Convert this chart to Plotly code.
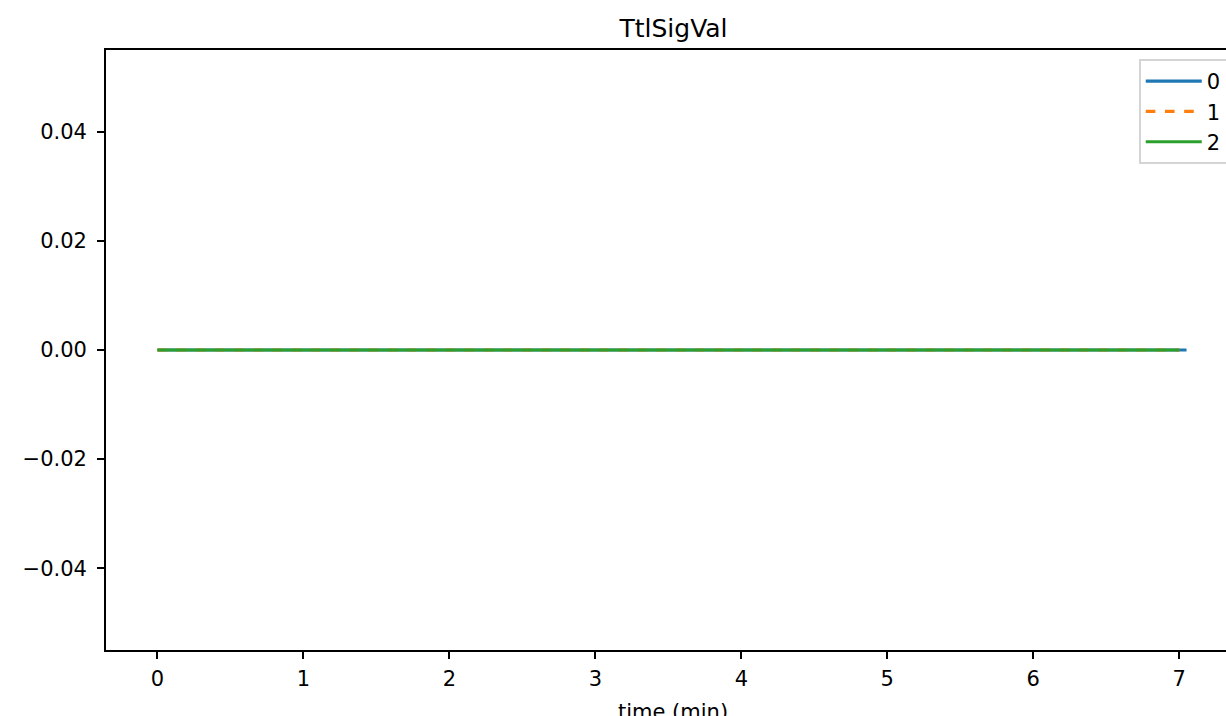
import plotly.graph_objects as go

# Data
time_0 = [0.0, 1.0, 2.0, 3.0, 4.0, 5.0, 6.0, 7.0, 7.05]
vals_0 = [0.0, 0.0, 0.0, 0.0, 0.0, 0.0, 0.0, 0.0, 0.0]
time_1 = [0.0, 1.0, 2.0, 3.0, 4.0, 5.0, 6.0, 7.0]
vals_1 = [0.0, 0.0, 0.0, 0.0, 0.0, 0.0, 0.0, 0.0]
time_2 = [0.0, 1.0, 2.0, 3.0, 4.0, 5.0, 6.0, 7.0]
vals_2 = [0.0, 0.0, 0.0, 0.0, 0.0, 0.0, 0.0, 0.0]
series_names = ["0", "1", "2"]
x_ticks = [0, 1, 2, 3, 4, 5, 6, 7]
y_ticks = [-0.04, -0.02, 0.0, 0.02, 0.04]
y_tick_labels = ["\u22120.04", "\u22120.02", "0.00", "0.02", "0.04"]

FONT = "DejaVu Sans"
TICK = 21
# plot area in page coords: x 105.5..1240.5, y 50..650 (right part falls outside the window)
L, T = 105.5, 50
PW, PH = 1135, 600
W = int(L + PW)
H = 716
B = H - T - PH


def px(page_x):
    return (page_x - L) / PW


def py(page_y):
    return 1 - (page_y - T) / PH


fig = go.Figure()
fig.add_trace(go.Scatter(x=time_0, y=vals_0, mode="lines", name=series_names[0],
                         line=dict(color="#1f77b4", width=3.2), legendgroup="a"))
fig.add_trace(go.Scatter(x=time_1, y=vals_1, mode="lines", name=series_names[1],
                         line=dict(color="#ff7f0e", width=3.2, dash="dash"), legendgroup="b"))
fig.add_trace(go.Scatter(x=time_2, y=vals_2, mode="lines", name=series_names[2],
                         line=dict(color="#2ca02c", width=3.2), legendgroup="c"))

fig.update_layout(
    width=W, height=H,
    margin=dict(l=L, r=0, t=T, b=B),
    paper_bgcolor="white", plot_bgcolor="white",
    font=dict(family=FONT, size=TICK, color="black"),
    title=dict(text="TtlSigVal", x=px(674.5), xref="paper", xanchor="center",
               y=1 - 28 / H, yref="container", yanchor="middle",
               font=dict(family=FONT, size=25, color="black")),
    showlegend=True,
    legend=dict(x=px(1141), xanchor="left", y=py(59), yanchor="top",
                bgcolor="rgba(255,255,255,0.8)", bordercolor="#d4d4d4", borderwidth=2,
                itemwidth=56, tracegroupgap=0, entrywidth=110, entrywidthmode="pixels",
                font=dict(family=FONT, size=TICK, color="black")),
    xaxis=dict(range=[-0.3525, 7.4025], tickvals=x_ticks, ticktext=[str(t) for t in x_ticks],
               showgrid=False, zeroline=False, showline=True, linecolor="black", linewidth=1.7,
               mirror=True, ticks="outside", ticklen=7, tickwidth=1.7, tickcolor="black",
               ticklabelstandoff=2,
               tickfont=dict(family=FONT, size=TICK, color="black")),
    yaxis=dict(range=[-0.055, 0.055], tickvals=y_ticks, ticktext=y_tick_labels,
               showgrid=False, zeroline=False, showline=True, linecolor="black", linewidth=1.7,
               mirror=True, ticks="outside", ticklen=7, tickwidth=1.7, tickcolor="black",
               ticklabelstandoff=6,
               tickfont=dict(family=FONT, size=TICK, color="black")),
)

fig.add_annotation(text="time (min)", xref="paper", yref="paper",
                   x=px(674), y=py(712),
                   xanchor="center", yanchor="middle", showarrow=False,
                   font=dict(family=FONT, size=TICK, color="black"))

fig.write_html(
    "out.html",
    config={"displayModeBar": False},
    post_script="document.body.style.margin='0';document.body.style.overflow='hidden';"
                "document.documentElement.style.overflow='hidden';",
)
